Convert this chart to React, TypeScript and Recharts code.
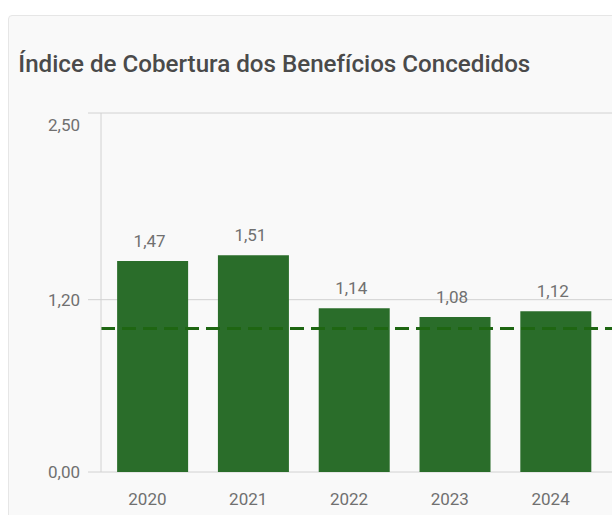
import { BarChart, Bar, XAxis, YAxis, CartesianGrid, ReferenceLine, LabelList } from "recharts";

const YEARS = ["2020", "2021", "2022", "2023", "2024"];
const COVERAGE = [1.47, 1.51, 1.14, 1.08, 1.12];
const Y_TICKS = [0, 1.2, 2.5];
const REFERENCE_VALUE = 1;

const TITLE = "Índice de Cobertura dos Benefícios Concedidos";

const BAR_COLOR = "#2a6d2a";
const REF_COLOR = "#1e6612";
const GRID = "#d2d2d2";
const TEXT = "#707070";
const FONT = "Roboto, 'Noto Sans', sans-serif";

const data = YEARS.map((year, i) => ({ year, value: COVERAGE[i] }));

const fmt = (v: number) => v.toFixed(2).replace(".", ",");

function YTick(props: any) {
  const { x, y, payload } = props;
  // top label sits under its gridline in the original
  const shift = payload.value === 2.5 ? 12 : 0;
  return (
    <text x={x} y={y + shift} dy="0.355em" textAnchor="end" fill={TEXT} fontSize={17} fontFamily={FONT}>
      {fmt(payload.value)}
    </text>
  );
}

function XTick(props: any) {
  const { x, y, payload } = props;
  return (
    <text x={x - 5} y={y} dy="0.71em" textAnchor="middle" fill={TEXT} fontSize={17} fontFamily={FONT}>
      {payload.value}
    </text>
  );
}

export default function App() {
  // fixed frame = the viewport, card runs off the right and bottom edges
  return (
    <div style={{ position: "fixed", left: 0, top: 0, width: 612, height: 515, overflow: "hidden", background: "#fff" }}>
      <div
        style={{
          position: "absolute",
          left: 8,
          top: 15,
          width: 700,
          height: 600,
          border: "1px solid #e6e6e6",
          borderRadius: 4,
          background: "#f9f9f9",
          boxSizing: "border-box",
        }}
      />
      <svg width={604} height={80} style={{ position: "absolute", left: 8, top: 8 }}>
        <text
          x={10.3}
          y={64}
          fontSize={24.5}
          fontWeight={500}
          fontFamily={FONT}
          fill="#4a4a4a"
          textLength={512}
          lengthAdjust="spacingAndGlyphs"
        >
          {TITLE}
        </text>
      </svg>
      <div style={{ position: "absolute", left: 8, top: 8 }}>
        <BarChart
          width={638}
          height={504}
          data={data}
          margin={{ top: 105, right: 0, bottom: 0, left: 0 }}
          barCategoryGap="15%"
        >
          <CartesianGrid vertical={false} stroke={GRID} />
          <XAxis
            dataKey="year"
            axisLine={false}
            tickLine={false}
            tickSize={0}
            tickMargin={21}
            height={40}
            padding={{ left: 1, right: 40 }}
            tick={<XTick />}
          />
          <YAxis
            domain={[0, 2.5]}
            ticks={Y_TICKS}
            width={93}
            axisLine={{ stroke: GRID }}
            tickLine={{ stroke: GRID }}
            tickSize={13}
            tickMargin={8}
            tick={<YTick />}
          />
          <Bar dataKey="value" fill={BAR_COLOR} isAnimationActive={false}>
            <LabelList
              dataKey="value"
              position="top"
              offset={14}
              dx={-3}
              formatter={(v: any) => fmt(Number(v))}
              style={{ fontSize: 17, fill: TEXT, fontFamily: FONT }}
            />
          </Bar>
          <ReferenceLine y={REFERENCE_VALUE} stroke={REF_COLOR} strokeWidth={3} strokeDasharray="14 7" />
        </BarChart>
      </div>
    </div>
  );
}
